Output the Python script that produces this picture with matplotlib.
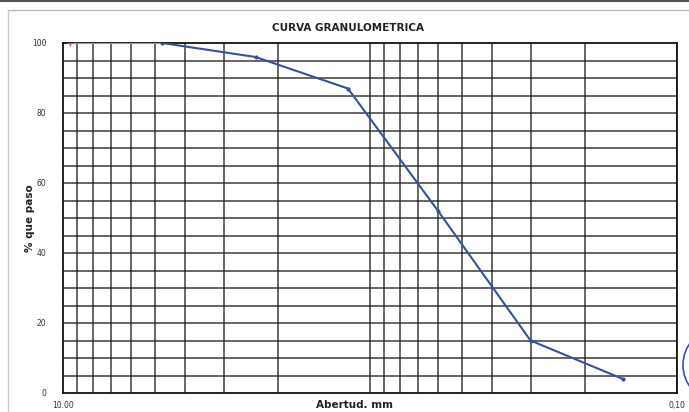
import matplotlib
matplotlib.use("Agg")
import matplotlib.pyplot as plt
from matplotlib.patches import Ellipse
import numpy as np

# Data
abertura_mm = [9.5, 4.75, 2.36, 1.18, 0.60, 0.30, 0.15]
pct_pasa = [100, 100, 96, 87, 52, 15, 4]

y_ticks = [0, 20, 40, 60, 80, 100]
x_tick_vals = [10.0, 0.1]
x_tick_labels = ["10.00", "0,10"]
title = "CURVA GRANULOMETRICA"
xlabel = "Abertud. mm"
ylabel = "% que paso"

W, H = 689, 412
fig = plt.figure(figsize=(W / 100, H / 100), dpi=100)
ax = fig.add_axes([63 / W, 1 - 393 / H, (677 - 63) / W, (393 - 43) / H])

ax.set_xscale("log")
ax.set_xlim(10, 0.1)
ax.set_ylim(0, 100)

# grid lines (log vertical, every 5 % horizontal)
vgrid = [m * 10.0 ** e for e in (0, -1) for m in range(1, 10)]
for v in vgrid:
    ax.axvline(v, color="#1a1a1a", lw=1.1, alpha=0.85, zorder=1)
for h in range(5, 100, 5):
    ax.axhline(h, color="#1a1a1a", lw=1.1, alpha=0.85, zorder=1)

for s in ax.spines.values():
    s.set_color("#111111")
    s.set_linewidth(1.3)

ax.plot(abertura_mm[1:], pct_pasa[1:], color="#34529f", lw=1.5, zorder=3)
ax.plot(abertura_mm[:2], pct_pasa[:2], color="#9fb2e4", lw=1.2, zorder=3)
ax.plot(abertura_mm[1:], pct_pasa[1:], ls="none", marker="o", ms=2.0,
        color="#34529f", zorder=4)
ax.plot(abertura_mm[:1], pct_pasa[:1], ls="none", marker="+", ms=4,
        color="#d05050", mew=1, zorder=4)

ax.set_yticks(y_ticks)
ax.set_yticklabels([str(t) for t in y_ticks], fontsize=5.5, color="#333333")
ax.tick_params(axis="y", length=0, pad=12)
ax.set_xticks(x_tick_vals)
ax.set_xticklabels(x_tick_labels, fontsize=5.5, color="#333333")
ax.xaxis.set_minor_locator(matplotlib.ticker.NullLocator())
ax.tick_params(axis="x", length=0, pad=6)

fig.text(348 / W, 1 - 28 / H, title, ha="center", va="center",
         fontsize=7.5, fontweight="bold", color="#222222")
fig.text(355 / W, 1 - 405 / H, xlabel, ha="center", va="center",
         fontsize=7.5, fontweight="bold", color="#222222")
fig.text(30 / W, 1 - 218 / H, ylabel, ha="center", va="center",
         rotation=90, fontsize=7.5, fontweight="bold", color="#222222")

# scanned page decorations
fig.add_artist(plt.Line2D([8 / W, 1], [1 - 10 / H, 1 - 10 / H],
                          transform=fig.transFigure, color="#bbbbbb", lw=1))
fig.add_artist(plt.Line2D([8 / W, 8 / W], [0, 1 - 10 / H],
                          transform=fig.transFigure, color="#cccccc", lw=1))
fig.add_artist(plt.Line2D([0, 1], [1 - 1 / H, 1 - 1 / H],
                          transform=fig.transFigure, color="#555555", lw=1.5))
fig.add_artist(Ellipse((715 / W, 1 - 365 / H), 64 / W, 70 / H,
                       transform=fig.transFigure, fill=False,
                       edgecolor="#3a4fc0", lw=1.2))

fig.savefig("out.png", dpi=100)
